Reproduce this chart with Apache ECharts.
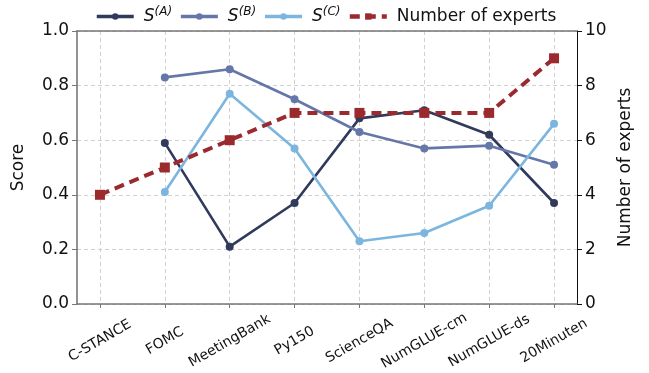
<!DOCTYPE html>
<html><head><meta charset="utf-8">
<script src="https://cdn.jsdelivr.net/npm/echarts@6/dist/echarts.min.js"></script>
<style>html,body{margin:0;padding:0;background:#fff}#c{width:649px;height:373px}</style>
</head><body><div id="c"></div>
<script>
const categories = ['C-STANCE','FOMC','MeetingBank','Py150','ScienceQA','NumGLUE-cm','NumGLUE-ds','20Minuten'];
const sA = [null, 0.59, 0.21, 0.37, 0.68, 0.71, 0.62, 0.37];
const sB = [null, 0.83, 0.86, 0.75, 0.63, 0.57, 0.58, 0.51];
const sC = [null, 0.41, 0.77, 0.57, 0.23, 0.26, 0.36, 0.66];
const experts = [4, 5, 6, 7, 7, 7, 7, 9];
const scoreTicks = [0, 0.2, 0.4, 0.6, 0.8, 1.0];
const expertTicks = [0, 2, 4, 6, 8, 10];

const idx = categories.map((_, i) => i);
const pairs = arr => arr.map((v, i) => v == null ? null : [i, v]).filter(p => p);
const font = 'DejaVu Sans';
const XMIN = -0.354, XMAX = 7.354;
const colors = {A: '#323a5c', B: '#6577a9', C: '#7cb6de', E: '#9b2a2e'};
const chart = echarts.init(document.getElementById('c'), null, {renderer: 'canvas'});

function lineSeries(name, data, color) {
  return {
    name, type: 'line', data: pairs(data), yAxisIndex: 0,
    symbol: 'circle', symbolSize: 8,
    lineStyle: {color, width: 2.6}, itemStyle: {color},
    emphasis: {disabled: true}, z: 3
  };
}

chart.setOption({
  animation: false,
  textStyle: {fontFamily: font},
  legend: {
    top: 1, left: 90, itemWidth: 37, itemHeight: 8, itemGap: 7,
    textStyle: {
      fontFamily: font, fontSize: 17, color: '#111',
      rich: {
        n: {fontFamily: font, fontSize: 17, color: '#111', padding: [0,0,0,5]},
        s: {fontFamily: font, fontSize: 17, fontStyle: 'italic', color: '#111', padding: [0,0,0,5]},
        sup: {fontFamily: font, fontSize: 12, fontStyle: 'italic', color: '#111', verticalAlign: 'top', padding: [0,0,9,0]}
      }
    },
    formatter: n => {
      const m = n.match(/^S\((.)\)$/);
      return m ? '{s|S}{sup|(' + m[1] + ')}' : '{n|' + n + '}';
    },
    data: [
      {name: 'S(A)', lineStyle: {width: 3.5}},
      {name: 'S(B)', lineStyle: {width: 3.5}},
      {name: 'S(C)', lineStyle: {width: 3.5}},
      {name: 'Number of experts', lineStyle: {width: 4.5}}
    ]
  },
  grid: {left: 77, right: 72, top: 31, bottom: 69, show: false, containLabel: false, outerBoundsMode: 'none'},
  xAxis: [
    {
      type: 'value', min: XMIN, max: XMAX,
      axisLine: {show: true, onZero: false, lineStyle: {color: '#777', width: 1.6}},
      axisTick: {show: true, customValues: idx, length: 4, lineStyle: {color: '#777'}},
      axisLabel: {
        customValues: idx, rotate: 30, align: 'center', verticalAlign: 'middle', margin: 37,
        fontFamily: font, fontSize: 14, color: '#111',
        formatter: v => categories[Math.round(v)]
      },
      splitLine: {show: true, lineStyle: {color: '#d0d0d0', type: [4, 3], width: 1}}
    },
    {
      type: 'value', min: XMIN, max: XMAX, position: 'top',
      axisLine: {show: true, onZero: false, lineStyle: {color: '#777', width: 1.6}},
      axisTick: {show: false}, axisLabel: {show: false}, splitLine: {show: false}
    }
  ],
  yAxis: [
    {
      type: 'value', min: 0, max: 1, interval: 0.2,
      name: 'Score', nameLocation: 'middle', nameGap: 50,
      nameTextStyle: {fontFamily: font, fontSize: 17, color: '#111'},
      axisLine: {show: true, onZero: false, lineStyle: {color: '#777', width: 1.6}},
      axisTick: {show: true, length: 5, lineStyle: {color: '#777'}},
      axisLabel: {fontFamily: font, fontSize: 17, color: '#111', margin: 8, formatter: v => v.toFixed(1)},
      splitLine: {show: true, lineStyle: {color: '#d0d0d0', type: [4, 3], width: 1}}
    },
    {
      type: 'value', min: 0, max: 10, interval: 2, position: 'right',
      name: 'Number of experts', nameLocation: 'middle', nameGap: 40, nameRotate: 90,
      nameTextStyle: {fontFamily: font, fontSize: 17, color: '#111'},
      axisLine: {show: true, onZero: false, lineStyle: {color: '#111', width: 1}},
      axisTick: {show: true, length: 5, lineStyle: {color: '#111'}},
      axisLabel: {fontFamily: font, fontSize: 17, color: '#111', margin: 8},
      splitLine: {show: false}
    }
  ],
  series: [
    lineSeries('S(A)', sA, colors.A),
    lineSeries('S(B)', sB, colors.B),
    lineSeries('S(C)', sC, colors.C),
    {
      name: 'Number of experts', type: 'line', yAxisIndex: 1, data: pairs(experts),
      symbol: 'rect', symbolSize: 10,
      lineStyle: {color: colors.E, width: 4, type: [10, 6]}, itemStyle: {color: colors.E},
      emphasis: {disabled: true}, z: 4
    }
  ]
});
</script></body></html>
